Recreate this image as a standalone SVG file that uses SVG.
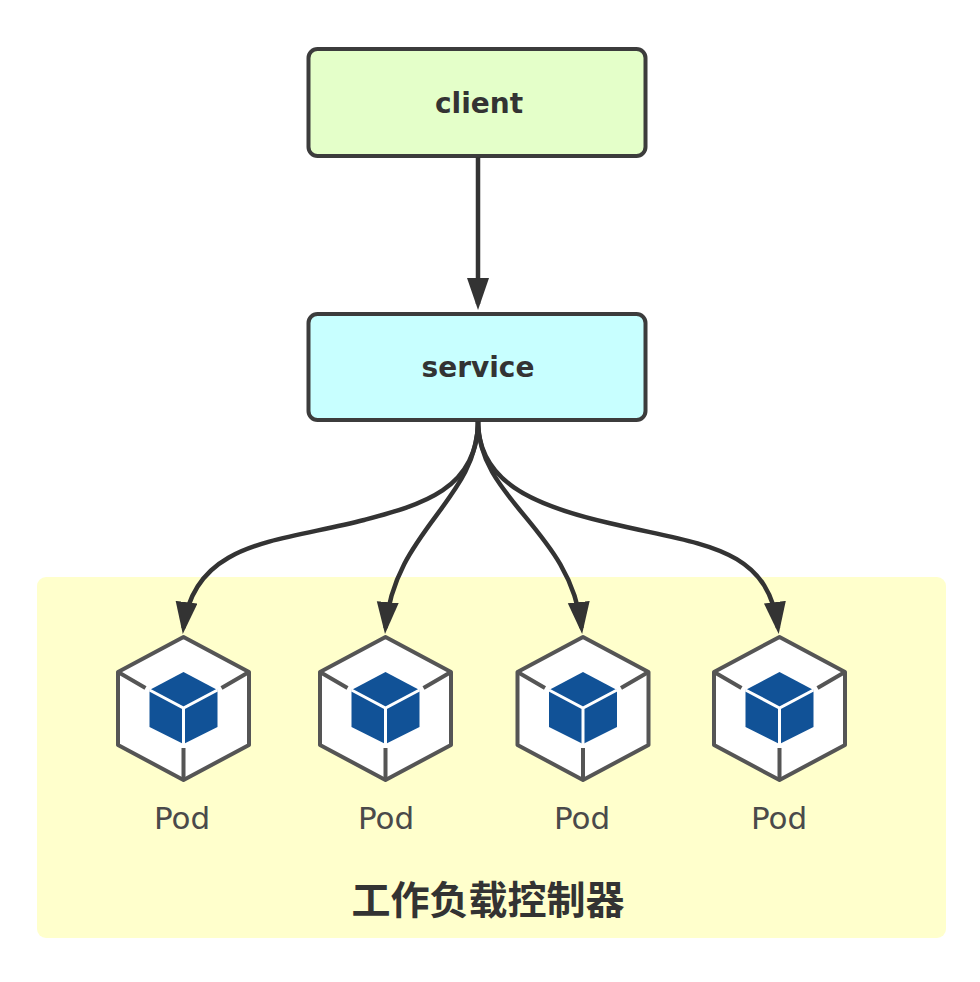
<svg xmlns="http://www.w3.org/2000/svg" width="980" height="982" viewBox="0 0 980 982">
<style>
.box{stroke:#3c3c3c;stroke-width:4}
.lbl{font-family:"DejaVu Sans","Liberation Sans",sans-serif;font-weight:bold;font-size:28px;fill:#333;text-anchor:middle}
.pod{font-family:"DejaVu Sans","Liberation Sans",sans-serif;font-size:31px;fill:#4a4a4a;text-anchor:middle}
.edge{fill:none;stroke:#333;stroke-width:4.5;marker-end:url(#a)}
.hex{fill:#fff;stroke:#555;stroke-width:4;stroke-linejoin:round}
.spoke{fill:none;stroke:#555;stroke-width:4}
.cube{fill:#115297}
.inner{fill:none;stroke:#fff;stroke-width:3}
</style>
<defs>
<marker id="a" markerUnits="userSpaceOnUse" markerWidth="34" markerHeight="24" refX="26" refY="11" orient="auto"><path d="M0 0L32 11L0 22Z" fill="#333"/></marker>
<g id="podshape">
<path class="hex" d="M0-71L65.500-36V37L0 72L-65.500 37V-36Z"/>
<path class="spoke" d="M-65.500-36L-38-20M65.500-36L38-20M0 72V40"/>
<path class="cube" d="M0-36L34-18V19L0 36L-34 19V-18Z"/>
<path class="inner" d="M-34-18L0 0L34-18M0 0V37"/>
</g>
</defs>
<rect width="980" height="982" fill="#fff"/>
<g id="controller"><rect x="37" y="577" width="909" height="361" rx="9" fill="#ffffcc"/>
<text x="488" y="914" text-anchor="middle" font-family="'Noto Sans CJK SC',sans-serif" font-weight="bold" font-size="39" fill="#333">工作负载控制器</text></g>
<g id="client"><rect class="box" x="308.500" y="49" width="337" height="107" rx="9" fill="#e4ffc9"/><text class="lbl" x="479" y="113">client</text></g>
<g id="service"><rect class="box" x="308.500" y="314" width="337" height="106" rx="9" fill="#c8ffff"/><text class="lbl" x="478" y="377">service</text></g>
<g id="connectors">
<path class="edge" d="M478 157V304"/>
<path class="edge" d="M478 421C478 490 420 505 364 520C280 542 194 540 183.500 628"/>
<path class="edge" d="M478 421C478 500 394 530 385.500 628"/>
<path class="edge" d="M478 421C478 500 571 530 581.500 628"/>
<path class="edge" d="M478 421C478 480 530 505 609 523C700 545 768 545 778 628"/>
</g>
<g id="pod1"><use href="#podshape" x="183.500" y="708"/><text class="pod" x="182" y="829">Pod</text></g>
<g id="pod2"><use href="#podshape" x="385.500" y="708"/><text class="pod" x="386" y="829">Pod</text></g>
<g id="pod3"><use href="#podshape" x="583" y="708"/><text class="pod" x="582" y="829">Pod</text></g>
<g id="pod4"><use href="#podshape" x="779.500" y="708"/><text class="pod" x="779" y="829">Pod</text></g>
</svg>
